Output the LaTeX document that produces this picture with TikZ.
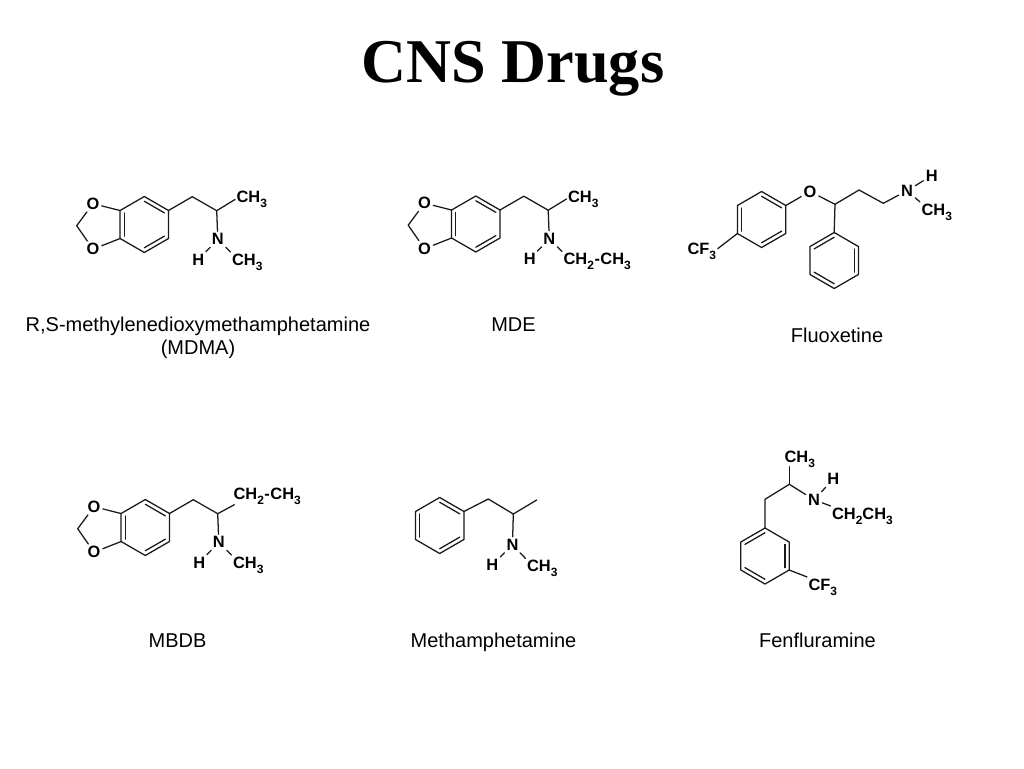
\documentclass[tikz,border=0pt]{standalone}
\usepackage{fontspec}
\setmainfont{Liberation Sans}
\newfontfamily\titlefont{Liberation Serif}[Ligatures=TeX]
\usetikzlibrary{calc}
\newcommand{\lowr}[1]{\raisebox{-0.32em}{\fontsize{9}{9}\selectfont #1}}
\newcommand{\methyl}{CH\lowr{3}}
\newcommand{\methylene}{CH\lowr{2}}
\newcommand{\trifluoro}{CF\lowr{3}}
% ring: p1 top, clockwise on screen; p0 centre
\newcommand{\ringat}[3]{%
  \coordinate (#10) at (#2,#3);
  \coordinate (#11) at ($(#10)+(0,-28)$);
  \coordinate (#12) at ($(#10)+(24.2,-14)$);
  \coordinate (#13) at ($(#10)+(24.2,14)$);
  \coordinate (#14) at ($(#10)+(0,28)$);
  \coordinate (#15) at ($(#10)+(-24.2,14)$);
  \coordinate (#16) at ($(#10)+(-24.2,-14)$);
  \draw[bond] (#11)--(#12)--(#13)--(#14)--(#15)--(#16)--cycle;
}
\newcommand{\dbl}[3]{\draw[bond] ($(#1#2)!.17!(#10)$) -- ($(#1#3)!.17!(#10)$);}
% methylenedioxyphenyl-propan-2-amine core, with the N-H
\newcommand{\dioxcore}[1]{%
  \ringat{#1r}{144.3}{224.5}
  \dbl{#1r}{5}{6}\dbl{#1r}{1}{2}\dbl{#1r}{3}{4}
  \node[atom] (#1o1) at (93,203.7) {O};
  \node[atom] (#1o2) at (93,249.2) {O};
  \coordinate (#1ch) at (76.7,225.7);
  \draw[bond] (#1r6)--(#1o1)--(#1ch)--(#1o2)--(#1r5);
  \coordinate (#1c1) at (192.3,196.7);
  \coordinate (#1c2) at (216.7,210.7);
  \node[atom] (#1n) at (217.8,239.2) {N};
  \node[atom] (#1h) at (198.3,259.7) {H};
  \draw[bond] (#1r2)--(#1c1)--(#1c2)--(#1n);
  \draw[bond] (#1n)--(#1h);
}
\tikzset{
  bond/.style={line width=0.95pt,line cap=round,line join=round,draw=black!90},
  atom/.style={font=\fontsize{12.3}{12}\selectfont\bfseries,inner sep=1.6pt,text=black},
  grp/.style={atom,anchor=base west,inner sep=1pt},
  caption/.style={font=\fontsize{15}{17.25}\selectfont,align=center,inner sep=0pt,anchor=base,text=black},
}
\begin{document}
\begin{tikzpicture}[x=0.75pt,y=-0.75pt]
\useasboundingbox (0,0) rectangle (1024,768);
\fill[white] (0,0) rectangle (1024,768);

\node[inner sep=0pt,anchor=base,text=black,font=\titlefont\fontsize{46.7}{50}\selectfont\bfseries] (title) at (513,82) {CNS Drugs};

% MDMA
\dioxcore{a}
\node[grp] (ame1) at (235,202.5) {\methyl};
\node[grp] (ame2) at (230.5,265) {\methyl};
\draw[bond] (ac2)--(ame1.west);
\draw[bond] (an)--(ame2.north west);
\node[caption] (acap) at (198,354) {R,S-methylenedioxymethamphetamine\\(MDMA)};

% MDE
\begin{scope}[shift={(331.5,-0.5)}]
\dioxcore{b}
\node[grp] (bme1) at (235,202.5) {\methyl};
\node[grp] (bet) at (230.5,265) {\methylene\kern0.4pt-\kern0.4pt\methyl};
\draw[bond] (bc2)--(bme1.west);
\draw[bond] (bn)--(bet.north west);
\end{scope}
\node[caption] (bcap) at (513.5,331) {MDE};

% Fluoxetine
\ringat{c}{761.6}{219.5}
\dbl{c}{1}{2}\dbl{c}{3}{4}\dbl{c}{5}{6}
\ringat{d}{834.2}{260.5}
\dbl{d}{2}{3}\dbl{d}{4}{5}\dbl{d}{6}{1}
\node[atom] (co) at (810,191.5) {O};
\coordinate (cc1) at (835,204.3);
\coordinate (cc2) at (859,190);
\coordinate (cc3) at (883.3,203.3);
\node[atom] (cn) at (907,190.7) {N};
\node[atom] (chh) at (931.7,175.7) {H};
\node[grp] (cme) at (920,215) {\methyl};
\node[grp] (cf) at (686,254.5) {\trifluoro};
\draw[bond] (c2)--(co)--(cc1)--(cc2)--(cc3)--(cn);
\draw[bond] (cc1)--(d1);
\draw[bond] (cn)--(chh);
\draw[bond] (cn)--(cme.north west);
\draw[bond] (c5)--(cf.10);
\node[caption] (ccap) at (837,342) {Fluoxetine};

% MBDB
\begin{scope}[shift={(1,303)}]
\dioxcore{e}
\node[grp] (eet) at (231,196) {\methylene\kern0.4pt-\kern0.4pt\methyl};
\node[grp] (eme) at (230.5,265) {\methyl};
\draw[bond,shorten >=-2pt] (ec2)--(eet.south west);
\draw[bond] (en)--(eme.north west);
\end{scope}
\node[caption] (ecap) at (177.5,647) {MBDB};

% Methamphetamine
\ringat{f}{439.7}{525.5}
\dbl{f}{1}{2}\dbl{f}{3}{4}\dbl{f}{5}{6}
\coordinate (fc1) at (488.3,499);
\coordinate (fc2) at (513.3,514);
\coordinate (fc3) at (536.7,500);
\node[atom] (fn) at (512.5,544.7) {N};
\node[atom] (fh) at (492.3,565) {H};
\node[grp] (fme) at (525.5,571.5) {\methyl};
\draw[bond] (f2)--(fc1)--(fc2)--(fc3);
\draw[bond] (fc2)--(fn);
\draw[bond] (fn)--(fh);
\draw[bond] (fn)--(fme.north west);
\node[caption] (fcap) at (493.5,647) {Methamphetamine};

% Fenfluramine
\ringat{g}{765}{556}
\dbl{g}{6}{1}\dbl{g}{2}{3}\dbl{g}{4}{5}
\coordinate (gc1) at (765,499.3);
\coordinate (gc2) at (789.3,484.3);
\node[atom] (gn) at (814,499.7) {N};
\node[atom] (gh) at (833.3,479.2) {H};
\node[grp] (gme) at (783,462.7) {\methyl};
\node[grp] (get) at (830.5,519) {\methylene\methyl};
\node[grp] (gf) at (807,590) {\trifluoro};
\draw[bond] (g1)--(gc1)--(gc2)--(gn);
\draw[bond,shorten >=-2.2pt] (gc2)--(gme.south west -| gc2);
\draw[bond] (gn)--(gh);
\draw[bond] (gn)--(get.north west);
\draw[bond] (g3)--(gf.north west);
\node[caption] (gcap) at (817.5,647) {Fenfluramine};
\end{tikzpicture}
\end{document}
